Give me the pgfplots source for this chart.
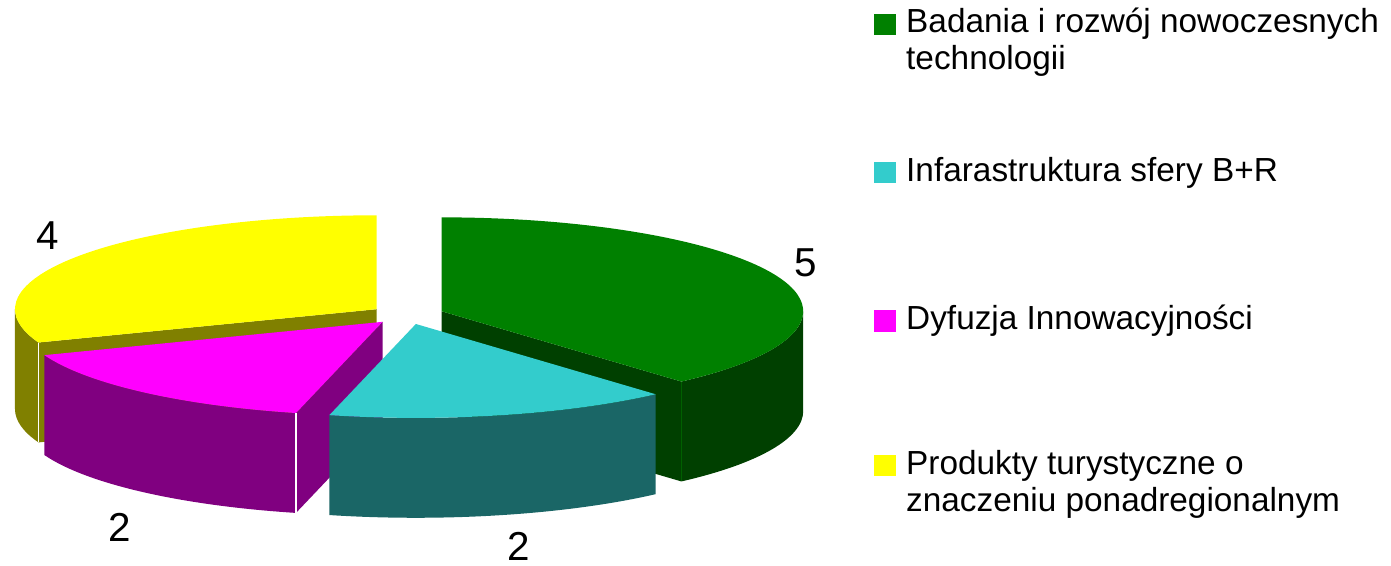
\documentclass[border=0pt]{standalone}
\usepackage{pgfplots}
\pgfplotsset{compat=1.18}
\usepackage{pgfplotstable}
\usepackage{fontspec}
\setmainfont{Liberation Sans}
\definecolor{cA}{HTML}{008000}
\definecolor{cAd}{HTML}{004000}
\definecolor{cB}{HTML}{33CCCC}
\definecolor{cBd}{HTML}{1A6666}
\definecolor{cC}{HTML}{FF00FF}
\definecolor{cCd}{HTML}{800080}
\definecolor{cD}{HTML}{FFFF00}
\definecolor{cDd}{HTML}{808000}

\pgfplotstableread{
value
5
2
2
4
}\piedata

\begin{document}
\begin{tikzpicture}
\pgfplotstablegetelem{0}{value}\of\piedata\edef\vA{\pgfplotsretval}
\pgfplotstablegetelem{1}{value}\of\piedata\edef\vB{\pgfplotsretval}
\pgfplotstablegetelem{2}{value}\of\piedata\edef\vC{\pgfplotsretval}
\pgfplotstablegetelem{3}{value}\of\piedata\edef\vD{\pgfplotsretval}
\pgfmathsetmacro\tot{\vA+\vB+\vC+\vD}
\pgfmathsetmacro\aAB{90-360*\vA/\tot}
\pgfmathsetmacro\aBC{\aAB-360*\vB/\tot}
\pgfmathsetmacro\aCD{\aBC-360*\vC/\tot}
\pgfmathsetmacro\aDend{\aCD+360}
\pgfmathsetmacro\mA{(90+\aAB)/2}
\pgfmathsetmacro\mB{(\aAB+\aBC)/2}
\pgfmathsetmacro\mC{(\aBC+\aCD)/2}
\pgfmathsetmacro\mD{(90+\aDend)/2}
\def\ex{37}\def\cx{406}\def\cy{251}\def\rat{0.2597}
\pgfmathsetmacro\xA{\cx+\ex*cos(\mA)}\pgfmathsetmacro\yA{\cy+\ex*\rat*sin(\mA)}\pgfmathsetmacro\ybA{\yA-100}
\pgfmathsetmacro\xB{\cx+\ex*cos(\mB)}\pgfmathsetmacro\yB{\cy+\ex*\rat*sin(\mB)}\pgfmathsetmacro\ybB{\yB-100}
\pgfmathsetmacro\xC{\cx+\ex*cos(\mC)}\pgfmathsetmacro\yC{\cy+\ex*\rat*sin(\mC)}\pgfmathsetmacro\ybC{\yC-100}
\pgfmathsetmacro\xD{\cx+\ex*cos(\mD)}\pgfmathsetmacro\yD{\cy+\ex*\rat*sin(\mD)}\pgfmathsetmacro\ybD{\yD-100}
\begin{axis}[scale only axis, width=13.91cm, height=5.66cm,
  xmin=0, xmax=1391, ymin=0, ymax=566, hide axis, clip=false]
\path (axis cs:0,0) rectangle (axis cs:1391,566);
% Yellow slice
\fill[cDd] (axis cs:\xD,\yD) -- ++(\aDend:3.62cm and 0.94cm) -- ++(0,-1cm) -- (axis cs:\xD,\ybD) -- cycle;
\fill[cDd] (axis cs:\xD,\yD) ++(180:3.62cm and 0.94cm) arc[start angle=180, end angle=\aDend, x radius=3.62cm, y radius=0.94cm] -- ++(0,-1cm) arc[start angle=\aDend, end angle=180, x radius=3.62cm, y radius=0.94cm] -- cycle;
\fill[cD] (axis cs:\xD,\yD) -- ++(90:3.62cm and 0.94cm) arc[start angle=90, end angle=\aDend, x radius=3.62cm, y radius=0.94cm] -- cycle;
\draw[white, line width=0.5pt] (axis cs:\xD,\yD) ++(\aDend:3.62cm and 0.94cm) -- ++(0,-1cm);
% Green slice
\fill[cAd] (axis cs:\xA,\yA) -- ++(\aAB:3.62cm and 0.94cm) -- ++(0,-1cm) -- (axis cs:\xA,\ybA) -- cycle;
\fill[cAd] (axis cs:\xA,\yA) ++(\aAB:3.62cm and 0.94cm) arc[start angle=\aAB, end angle=0, x radius=3.62cm, y radius=0.94cm] -- ++(0,-1cm) arc[start angle=0, end angle=\aAB, x radius=3.62cm, y radius=0.94cm] -- cycle;
\fill[cA] (axis cs:\xA,\yA) -- ++(\aAB:3.62cm and 0.94cm) arc[start angle=\aAB, end angle=90, x radius=3.62cm, y radius=0.94cm] -- cycle;
\draw[cA!50!cAd, line width=0.4pt] (axis cs:\xA,\yA) ++(\aAB:3.62cm and 0.94cm) -- ++(0,-1cm);
% Magenta slice
\fill[cCd] (axis cs:\xC,\yC) -- ++(\aBC:3.62cm and 0.94cm) -- ++(0,-1cm) -- (axis cs:\xC,\ybC) -- cycle;
\fill[cCd] (axis cs:\xC,\yC) ++(\aCD:3.62cm and 0.94cm) arc[start angle=\aCD, end angle=\aBC, x radius=3.62cm, y radius=0.94cm] -- ++(0,-1cm) arc[start angle=\aBC, end angle=\aCD, x radius=3.62cm, y radius=0.94cm] -- cycle;
\fill[cC] (axis cs:\xC,\yC) -- ++(\aCD:3.62cm and 0.94cm) arc[start angle=\aCD, end angle=\aBC, x radius=3.62cm, y radius=0.94cm] -- cycle;
\draw[white, line width=0.5pt] (axis cs:\xC,\yC) ++(\aBC:3.62cm and 0.94cm) -- ++(0,-1cm);
% Teal slice
\fill[cBd] (axis cs:\xB,\yB) ++(\aBC:3.62cm and 0.94cm) arc[start angle=\aBC, end angle=\aAB, x radius=3.62cm, y radius=0.94cm] -- ++(0,-1cm) arc[start angle=\aAB, end angle=\aBC, x radius=3.62cm, y radius=0.94cm] -- cycle;
\fill[cB] (axis cs:\xB,\yB) -- ++(\aBC:3.62cm and 0.94cm) arc[start angle=\aBC, end angle=\aAB, x radius=3.62cm, y radius=0.94cm] -- cycle;
% value labels
\node[font=\fontsize{11.5}{13}\selectfont, inner sep=0pt] at (axis cs:805.5,303) {\vA};
\node[font=\fontsize{11.5}{13}\selectfont, inner sep=0pt] at (axis cs:517.5,19) {\vB};
\node[font=\fontsize{11.5}{13}\selectfont, inner sep=0pt] at (axis cs:118,38) {\vC};
\node[font=\fontsize{11.5}{13}\selectfont, inner sep=0pt] at (axis cs:46,330) {\vD};
% legend
\fill[cA] (axis cs:873,531) rectangle (axis cs:895,552);
\fill[cB] (axis cs:873,383) rectangle (axis cs:895,404);
\fill[cC] (axis cs:873,234) rectangle (axis cs:895,256);
\fill[cD] (axis cs:873,89) rectangle (axis cs:895,111);
\begin{scope}[every node/.style={anchor=base west, inner sep=0pt, font=\fontsize{9.5}{11}\selectfont}]
\node at (axis cs:905,533) {Badania i rozwój nowoczesnych};
\node at (axis cs:905,496) {technologii};
\node at (axis cs:905,384) {Infarastruktura sfery B+R};
\node at (axis cs:905,236) {Dyfuzja Innowacyjności};
\node at (axis cs:905,91) {Produkty turystyczne o};
\node at (axis cs:905,54) {znaczeniu ponadregionalnym};
\end{scope}
\end{axis}
\end{tikzpicture}
\end{document}
